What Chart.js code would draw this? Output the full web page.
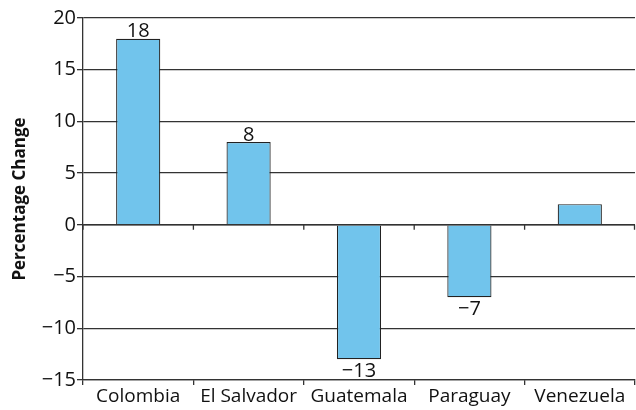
<!DOCTYPE html>
<html>
<head>
<meta charset="utf-8">
<script src="https://cdn.jsdelivr.net/npm/chart.js@4"></script>
<style>
  html, body { margin: 0; padding: 0; background: #ffffff; }
  #wrap { width: 636px; height: 410px; }
</style>
</head>
<body>
<div id="wrap"><canvas id="chart"></canvas></div>
<script>
const countries = ["Colombia", "El Salvador", "Guatemala", "Paraguay", "Venezuela"];
const changes = [18, 8, -13, -7, 2];
const valueLabels = ["18", "8", "-13", "-7", ""];
const yTicks = [-15, -10, -5, 0, 5, 10, 15, 20];

const FONT = "'Open Sans', 'Noto Sans', sans-serif";
const INK = "#111111";
const GRID = "#333333";

// swap the hyphen for a real minus sign
const minus = (s) => String(s).replace("-", "\u2212");

// value text above positive bars, below negative ones
const barLabels = {
  id: "barLabels",
  afterDatasetsDraw(chart) {
    const { ctx } = chart;
    const meta = chart.getDatasetMeta(0);
    ctx.save();
    ctx.fillStyle = INK;
    ctx.font = "20px " + FONT;
    ctx.textAlign = "center";
    meta.data.forEach((bar, i) => {
      const text = valueLabels[i];
      if (!text) return;
      if (changes[i] >= 0) {
        ctx.textBaseline = "bottom";
        ctx.fillText(minus(text), bar.x, bar.y + 3);
      } else {
        ctx.textBaseline = "top";
        ctx.fillText(minus(text), bar.x, bar.y + 2);
      }
    });
    ctx.restore();
  }
};

// zero line over the bar bases, with small category ticks hanging below it
const zeroLine = {
  id: "zeroLine",
  afterDatasetsDraw(chart) {
    const { ctx, chartArea } = chart;
    const x = chart.scales.x;
    const y0 = chart.scales.y.getPixelForValue(0);
    const half = (x.getPixelForValue(1) - x.getPixelForValue(0)) / 2;
    ctx.save();
    ctx.strokeStyle = GRID;
    ctx.lineWidth = 1.3;
    ctx.beginPath();
    ctx.moveTo(chartArea.left, y0);
    ctx.lineTo(chartArea.right, y0);
    for (let i = 0; i <= countries.length; i++) {
      const px = Math.min(x.getPixelForValue(0) - half + i * half * 2, chartArea.right - 0.5);
      ctx.moveTo(px, y0);
      ctx.lineTo(px, y0 + 5);
    }
    ctx.stroke();
    ctx.restore();
  }
};

new Chart(document.getElementById("chart"), {
  type: "bar",
  data: {
    labels: countries,
    datasets: [{
      data: changes,
      backgroundColor: "#71c4ec",
      borderColor: "#222222",
      borderWidth: 1.2,
      borderSkipped: "start",
      barPercentage: 0.4,
      categoryPercentage: 1
    }]
  },
  options: {
    responsive: true,
    maintainAspectRatio: false,
    animation: false,
    layout: { padding: { top: 18, right: 1, left: 0, bottom: 0 } },
    plugins: {
      legend: { display: false },
      tooltip: { enabled: false }
    },
    scales: {
      x: {
        offset: true,
        grid: {
          offset: true,
          drawOnChartArea: false,
          color: GRID,
          lineWidth: 1.3,
          tickLength: 5
        },
        border: { color: GRID, width: 1.3 },
        ticks: {
          color: INK,
          font: { family: FONT, size: 19 },
          padding: 0,
          maxRotation: 0,
          autoSkip: false
        },
        afterFit(scale) { scale.height = 30; }
      },
      y: {
        min: -15,
        max: 20,
        afterBuildTicks(scale) {
          scale.ticks = yTicks.map((v) => ({ value: v }));
        },
        grid: {
          color: GRID,
          lineWidth: 1.3,
          tickLength: 6
        },
        border: { color: GRID, width: 1.3 },
        ticks: {
          color: INK,
          font: { family: FONT, size: 20 },
          padding: 1,
          callback: (v) => minus(v)
        },
        title: {
          display: true,
          text: "Percentage Change",
          color: INK,
          font: { family: FONT, size: 17, weight: "bold" },
          padding: { top: 10, bottom: 2 }
        },
        afterFit(scale) { scale.width = 83; }
      }
    }
  },
  plugins: [barLabels, zeroLine]
});
</script>
</body>
</html>
